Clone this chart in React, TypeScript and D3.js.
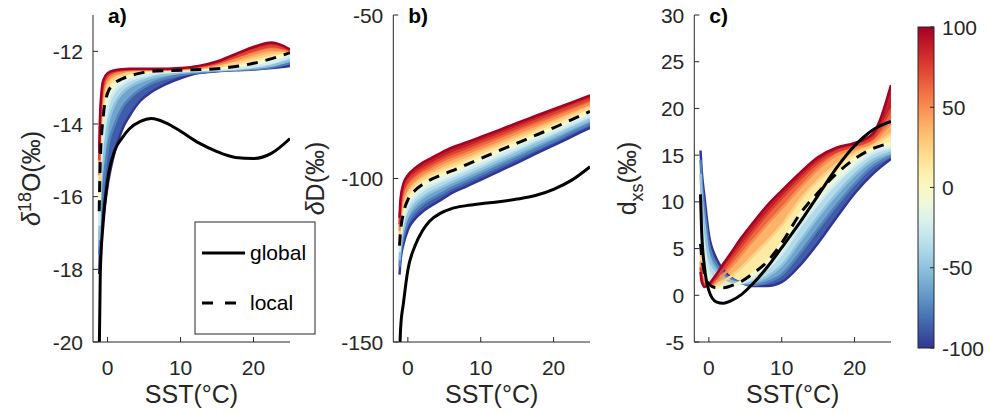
import React from 'react';
import * as d3 from 'd3';

// SST sample points (°C) shared by every curve
const SST = [-1.15, -1.0, -0.6, 0, 1, 2, 3, 4.5, 6, 8, 10, 12.5, 15, 17.5, 20, 22.5, 25];
// colour parameter of each family member
const LEVELS = [100, 75, 50, 25, 0, -25, -50, -75, -100];

// ---- panel a: δ18O ----
const a100 = [-14.8, -13.6, -12.8, -12.6, -12.52, -12.49, -12.48, -12.48, -12.48, -12.48, -12.46, -12.4, -12.28, -12.08, -11.88, -11.76, -11.95];
const a75 = [-15.0, -13.8, -12.95, -12.68, -12.56, -12.52, -12.5, -12.49, -12.49, -12.49, -12.47, -12.42, -12.32, -12.15, -11.97, -11.85, -11.97];
const a50 = [-15.4, -14.1, -13.15, -12.78, -12.63, -12.57, -12.53, -12.51, -12.5, -12.5, -12.48, -12.45, -12.37, -12.23, -12.07, -11.95, -12.0];
const a25 = [-15.9, -14.5, -13.45, -12.95, -12.74, -12.65, -12.6, -12.56, -12.53, -12.51, -12.5, -12.47, -12.43, -12.33, -12.2, -12.08, -12.02];
const a0 = [-16.4, -15.0, -13.8, -13.15, -12.87, -12.76, -12.68, -12.6, -12.55, -12.53, -12.52, -12.5, -12.48, -12.42, -12.33, -12.2, -12.04];
const aM25 = [-16.8, -15.6, -14.4, -13.6, -13.1, -12.92, -12.8, -12.7, -12.63, -12.58, -12.55, -12.52, -12.5, -12.47, -12.42, -12.32, -12.15];
const aM50 = [-17.2, -16.1, -15.0, -14.1, -13.45, -13.15, -12.98, -12.83, -12.73, -12.64, -12.59, -12.55, -12.52, -12.5, -12.46, -12.39, -12.25];
const aM75 = [-17.6, -16.7, -15.7, -14.7, -14.0, -13.55, -13.3, -13.05, -12.88, -12.74, -12.65, -12.58, -12.54, -12.51, -12.49, -12.44, -12.33];
const aM100 = [-18.13, -17.3, -16.6, -15.7, -14.75, -14.15, -13.78, -13.36, -13.12, -12.9, -12.74, -12.6, -12.55, -12.52, -12.5, -12.46, -12.4];
const globalA = [-20.4, -18.1, -16.7, -15.55, -14.72, -14.38, -14.13, -13.93, -13.85, -13.97, -14.2, -14.52, -14.76, -14.92, -14.95, -14.8, -14.4];

// ---- panel b: δD ----
const b100 = [-112, -106, -101.5, -99, -96.8, -95.2, -94.0, -92.2, -90.6, -89.0, -87.3, -85.2, -83.0, -80.9, -78.8, -76.7, -74.6];
const b75 = [-114, -108, -103.5, -100.8, -98.6, -97.0, -95.8, -94.0, -92.4, -90.7, -88.9, -86.7, -84.5, -82.3, -80.1, -77.9, -75.8];
const b50 = [-116, -110.5, -105.8, -102.7, -100.3, -98.6, -97.4, -95.6, -94.1, -92.4, -90.6, -88.3, -86.0, -83.8, -81.6, -79.3, -77.0];
const b25 = [-118, -113, -108, -104.6, -101.9, -100.2, -98.9, -97.3, -95.9, -94.1, -92.2, -89.9, -87.6, -85.3, -83.0, -80.6, -78.2];
const b0 = [-120.5, -116, -110.5, -106.5, -103.6, -101.8, -100.5, -99.0, -97.7, -95.8, -93.9, -91.5, -89.2, -86.8, -84.5, -82.0, -79.5];
const bM25 = [-122.5, -118.5, -113, -108.8, -105.7, -103.8, -102.4, -100.9, -99.5, -97.5, -95.6, -93.1, -90.7, -88.2, -85.9, -83.3, -80.8];
const bM50 = [-125, -121, -115.5, -111.2, -107.9, -105.9, -104.4, -102.8, -101.2, -99.2, -97.2, -94.7, -92.2, -89.6, -87.2, -84.6, -82.1];
const bM75 = [-127, -123, -117.8, -113.5, -110.1, -108.0, -106.5, -104.7, -102.9, -100.9, -98.8, -96.2, -93.7, -91.1, -88.6, -85.9, -83.3];
const bM100 = [-129.4, -125, -120, -115.8, -112.3, -110.2, -108.6, -106.6, -104.5, -102.5, -100.4, -97.8, -95.2, -92.5, -89.9, -87.2, -84.5];
const globalB = [-156, -146, -138, -128, -120.5, -116, -113, -110.6, -109.2, -108.3, -107.7, -107.1, -106.3, -105.2, -103.3, -100.5, -96.4];

// ---- panel c: d-excess ----
const c100 = [2.5, 1.5, 0.9, 1.2, 2.2, 3.4, 4.5, 6.2, 7.7, 9.6, 11.2, 13.1, 14.8, 15.8, 16.3, 17.3, 22.5];
const c75 = [3.0, 2.0, 1.1, 1.1, 1.8, 2.8, 3.8, 5.3, 6.8, 8.7, 10.4, 12.4, 14.2, 15.4, 16.0, 16.8, 20.0];
const c50 = [3.6, 2.5, 1.4, 1.0, 1.4, 2.2, 3.0, 4.4, 5.8, 7.6, 9.3, 11.5, 13.5, 15.0, 15.7, 16.4, 18.5];
const c25 = [4.5, 3.3, 1.8, 1.0, 1.1, 1.5, 2.0, 3.0, 4.2, 5.8, 7.5, 10.2, 12.3, 14.0, 15.2, 16.0, 17.3];
const c0 = [5.5, 4.3, 2.3, 1.2, 0.8, 0.8, 1.0, 1.5, 2.3, 3.6, 5.6, 8.7, 11.0, 13.0, 14.6, 15.7, 16.3];
const cM25 = [10.5, 8.3, 5.0, 2.6, 1.5, 1.2, 1.1, 1.3, 1.8, 2.8, 4.4, 7.3, 9.8, 12.0, 13.8, 15.2, 15.8];
const cM50 = [13.0, 10.8, 7.6, 4.2, 2.6, 1.8, 1.5, 1.3, 1.4, 2.0, 3.2, 5.8, 8.4, 10.8, 12.9, 14.5, 15.3];
const cM75 = [14.5, 12.3, 9.2, 5.5, 3.4, 2.3, 1.8, 1.3, 1.1, 1.4, 2.2, 4.5, 7.1, 9.6, 11.9, 13.8, 14.9];
const cM100 = [15.5, 13.5, 10.5, 6.5, 4.0, 2.7, 1.9, 1.3, 1.0, 1.0, 1.4, 3.2, 5.6, 8.3, 10.9, 13.0, 14.6];
const globalC = [10.8, 7.0, 3.0, 0.5, -0.7, -0.85, -0.6, 0.1, 1.2, 3.0, 5.1, 7.8, 10.7, 13.6, 16.0, 17.7, 18.6];

const X_TICKS = [0, 10, 20];
const A_TICKS = [-20, -18, -16, -14, -12];
const B_TICKS = [-150, -100, -50];
const C_TICKS = [-5, 0, 5, 10, 15, 20, 25, 30];
const CB_TICKS = [100, 50, 0, -50, -100];
const LEGEND_LABELS = ['global', 'local'];

const FONT = '"Liberation Sans", Arial, Helvetica, sans-serif';
const INK = '#262626';
const color = (k: number) => d3.interpolateRdYlBu((100 - k) / 200);

const TOP = 15;
const BOTTOM = 342;

type PanelCfg = {
  id: string;
  x0: number;
  x1: number;
  yDomain: [number, number];
  yTicks: number[];
  family: number[][];
  global: number[];
  local: number[];
  letter: string;
  ylabel: React.ReactNode;
};

function Panel({ cfg }: { cfg: PanelCfg }) {
  const x = d3.scaleLinear().domain([-2, 25]).range([cfg.x0, cfg.x1]);
  const y = d3.scaleLinear().domain(cfg.yDomain).range([BOTTOM, TOP]);
  const line = d3
    .line<number>()
    .x((_, i) => x(SST[i]))
    .y((d) => y(d))
    .curve(d3.curveMonotoneX);
  const bands: { d: string; c: string }[] = [];
  for (let j = cfg.family.length - 1; j > 0; j--) {
    const hi = cfg.family[j - 1];
    const lo = cfg.family[j];
    const area = d3
      .area<number>()
      .x((_, i) => x(SST[i]))
      .y0((d) => y(d))
      .y1((_, i) => y(hi[i]))
      .curve(d3.curveMonotoneX);
    bands.push({ d: area(lo) || '', c: color((LEVELS[j] + LEVELS[j - 1]) / 2) });
  }
  const clipId = `clip-${cfg.id}`;
  return (
    <g>
      <defs>
        <clipPath id={clipId}>
          <rect x={cfg.x0} y={TOP} width={cfg.x1 - cfg.x0} height={BOTTOM - TOP} />
        </clipPath>
      </defs>
      <g clipPath={`url(#${clipId})`}>
        {bands.map((b, i) => (
          <path key={'b' + i} d={b.d} fill={b.c} stroke="none" />
        ))}
        {cfg.family
          .map((s, j) => ({ s, k: LEVELS[j] }))
          .reverse()
          .map(({ s, k }) => (
            <path key={'l' + k} d={line(s) || ''} fill="none" stroke={color(k)} strokeWidth={2.5} />
          ))}
        <path d={line(cfg.local) || ''} fill="none" stroke="#000" strokeWidth={3} strokeDasharray="11 8" />
        <path d={line(cfg.global) || ''} fill="none" stroke="#000" strokeWidth={3} />
      </g>
      {/* axes */}
      <line x1={cfg.x0} x2={cfg.x0} y1={TOP} y2={BOTTOM} stroke={INK} strokeWidth={1} />
      <line x1={cfg.x0} x2={cfg.x1} y1={BOTTOM} y2={BOTTOM} stroke={INK} strokeWidth={1} />
      {X_TICKS.map((t) => (
        <g key={'x' + t}>
          <line x1={x(t)} x2={x(t)} y1={BOTTOM} y2={BOTTOM - 5} stroke={INK} />
          <text x={x(t)} y={375} textAnchor="middle" fontSize={21} fill={INK}>
            {t}
          </text>
        </g>
      ))}
      {cfg.yTicks.map((t) => (
        <g key={'y' + t}>
          <line x1={cfg.x0} x2={cfg.x0 + 5} y1={y(t)} y2={y(t)} stroke={INK} />
          <text x={cfg.x0 - 10} y={y(t) + 7.5} textAnchor="end" fontSize={21} fill={INK}>
            {t}
          </text>
        </g>
      ))}
      <text x={(cfg.x0 + cfg.x1) / 2} y={403} textAnchor="middle" fontSize={25} fill={INK}>
        SST(°C)
      </text>
      <text x={cfg.x0 + 15} y={23} fontSize={21} fontWeight="bold" fill="#000">
        {cfg.letter}
      </text>
      {cfg.ylabel}
    </g>
  );
}

export default function App() {
  const cy = (TOP + BOTTOM) / 2;
  const panels: PanelCfg[] = [
    {
      id: 'a',
      x0: 93,
      x1: 290,
      yDomain: [-20, -11],
      yTicks: A_TICKS,
      family: [a100, a75, a50, a25, a0, aM25, aM50, aM75, aM100],
      global: globalA,
      local: a0,
      letter: 'a)',
      ylabel: (
        <text transform={`translate(40,${cy}) rotate(-90)`} textAnchor="middle" fontSize={25} fill={INK}>
          <tspan fontStyle="italic">δ</tspan>
          <tspan dy={-9} fontSize={18}>18</tspan>
          <tspan dy={9}>O(‰)</tspan>
        </text>
      ),
    },
    {
      id: 'b',
      x0: 393.3,
      x1: 590,
      yDomain: [-150, -50],
      yTicks: B_TICKS,
      family: [b100, b75, b50, b25, b0, bM25, bM50, bM75, bM100],
      global: globalB,
      local: b0,
      letter: 'b)',
      ylabel: (
        <text transform={`translate(324,${cy}) rotate(-90)`} textAnchor="middle" fontSize={25} fill={INK}>
          <tspan fontStyle="italic">δ</tspan>
          <tspan>D(‰)</tspan>
        </text>
      ),
    },
    {
      id: 'c',
      x0: 694.3,
      x1: 891,
      yDomain: [-5, 30],
      yTicks: C_TICKS,
      family: [c100, c75, c50, c25, c0, cM25, cM50, cM75, cM100],
      global: globalC,
      local: c0,
      letter: 'c)',
      ylabel: (
        <text transform={`translate(636,${cy}) rotate(-90)`} textAnchor="middle" fontSize={25} fill={INK}>
          <tspan>d</tspan>
          <tspan dy={7} fontSize={18}>xs</tspan>
          <tspan dy={-7}>(‰)</tspan>
        </text>
      ),
    },
  ];

  // colorbar
  const cbX = 918;
  const cbW = 16;
  const cbTop = 27;
  const cbBot = 348;
  const cbScale = d3.scaleLinear().domain([-100, 100]).range([cbBot, cbTop]);
  const stops = d3.range(0, 1.0001, 0.05);

  return (
    <svg
      width={989}
      height={413}
      style={{ position: 'absolute', left: 0, top: 0, background: '#fff' }}
      fontFamily={FONT}
    >
      <rect x={0} y={0} width={989} height={413} fill="#fff" />
      {panels.map((p) => (
        <Panel key={p.id} cfg={p} />
      ))}
      {/* legend */}
      <g>
        <rect x={195} y={222} width={120} height={112} fill="#fff" stroke={INK} strokeWidth={1} />
        {LEGEND_LABELS.map((lab, i) => (
          <g key={lab}>
            <line
              x1={202}
              x2={245}
              y1={253 + i * 50}
              y2={253 + i * 50}
              stroke="#000"
              strokeWidth={3}
              strokeDasharray={i === 1 ? '11 12' : undefined}
            />
            <text x={250} y={260 + i * 50} fontSize={21} fill="#000">
              {lab}
            </text>
          </g>
        ))}
      </g>
      {/* colorbar */}
      <defs>
        <linearGradient id="cbgrad" x1="0" y1="0" x2="0" y2="1">
          {stops.map((t) => (
            <stop key={t} offset={t} stopColor={d3.interpolateRdYlBu(t)} />
          ))}
        </linearGradient>
      </defs>
      <rect x={cbX} y={cbTop} width={cbW} height={cbBot - cbTop} fill="url(#cbgrad)" stroke={INK} strokeWidth={1} />
      {CB_TICKS.map((t) => (
        <g key={'cb' + t}>
          <line x1={cbX + cbW} x2={cbX + cbW - 4} y1={cbScale(t)} y2={cbScale(t)} stroke={INK} />
          <text x={cbX + 24} y={cbScale(t) + 7.5} fontSize={21} fill={INK}>
            {t}
          </text>
        </g>
      ))}
    </svg>
  );
}
